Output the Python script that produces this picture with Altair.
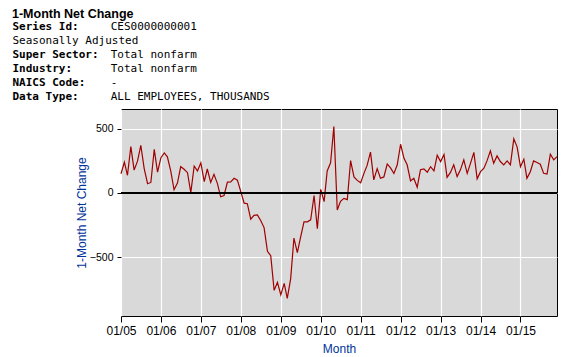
import altair as alt
import pandas as pd

# ---------------- data ----------------
years = list(range(2005, 2016))
net_change = [
    # 2005
    150, 240, 138, 362, 178, 248, 372, 190, 72, 82, 340, 162,
    # 2006
    275, 312, 282, 170, 25, 77, 205, 185, 158, 3, 210, 172,
    # 2007
    235, 88, 187, 82, 145, 75, -30, -20, 85, 87, 115, 100,
    # 2008
    10, -80, -84, -205, -175, -172, -215, -270, -455, -490, -760, -698,
    # 2009
    -795, -706, -823, -670, -352, -466, -345, -225, -225, -210, -20, -278,
    # 2010
    28, -68, 172, 235, 518, -133, -65, -42, -52, 252, 125, 98,
    # 2011
    80, 155, 215, 318, 102, 190, 115, 125, 226, 195, 152, 218,
    # 2012
    380, 270, 220, 94, 114, 45, 182, 188, 162, 205, 172, 295,
    # 2013
    245, 300, 122, 160, 220, 128, 180, 258, 153, 231, 317, 110,
    # 2014
    166, 193, 250, 328, 231, 289, 245, 219, 250, 219, 422, 360,
    # 2015
    205, 263, 114, 166, 250, 237, 224, 153, 148, 302, 258, 284,
]
month_labels = [f"{y}/{m:02d}/01" for y in years for m in range(1, 13)]

chart_title = "1-Month Net Change"
header_labels = ["Series Id:", "Seasonally Adjusted", "Super Sector:",
                 "Industry:", "NAICS Code:", "Data Type:"]
header_bold = [True, False, True, True, True, True]
header_values = ["CES0000000001", "", "Total nonfarm", "Total nonfarm",
                 "-", "ALL EMPLOYEES, THOUSANDS"]
y_ticks = [-500, 0, 500]
y_domain = [-960, 655]
x_title = "Month"
y_title = "1-Month Net Change"

# ---------------- tables ----------------
df = pd.DataFrame({"month": month_labels, "change": net_change})
hdr = pd.DataFrame({
    "row": list(range(len(header_labels))),
    "label": header_labels,
    "bold": header_bold,
    "value": header_values,
})

blue = "#003399"
line_red = "#a00000"

x_enc = alt.X(
    "month:T",
    scale=alt.Scale(
        domain=[alt.DateTime(year=2005, month=1, date=1),
                alt.DateTime(year=2015, month=12, date=1)],
        nice=False,
    ),
    axis=alt.Axis(
        title=x_title,
        format="%m/%y",
        values=[alt.DateTime(year=y, month=1, date=1) for y in years],
        labelOverlap=False, labelFlush=False, labelAlign="center",
        labelFont="Liberation Sans", labelFontSize=12, labelColor="black",
        labelPadding=3, tickSize=6, tickColor="black", domain=False,
        grid=True, gridColor="white", gridWidth=1.2,
        titleFont="Liberation Sans", titleFontSize=12, titleColor=blue,
        titleFontWeight="normal", titleY=36, titleX=218,
        titleBaseline="alphabetic", titleAlign="center",
    ),
)
y_enc = alt.Y(
    "change:Q",
    scale=alt.Scale(domain=y_domain, nice=False, zero=False),
    axis=alt.Axis(
        title=y_title,
        values=y_ticks,
        labelOverlap=False, labelFlush=False,
        labelFont="Liberation Sans", labelFontSize=10.5, labelColor="black",
        labelPadding=4, tickSize=4, tickColor="black", domain=False,
        grid=True, gridColor="white", gridWidth=1.2,
        titleFont="Liberation Sans", titleFontSize=12, titleColor=blue,
        titleFontWeight="normal", titleX=-40, titleY=103.5,
        titleBaseline="middle", titleAlign="center", titleAngle=-90,
    ),
)

line = alt.Chart(df).mark_line(color=line_red, strokeWidth=1.2).encode(x=x_enc, y=y_enc)

zero_rule = alt.Chart(df).mark_rule(color="black", strokeWidth=1.2).encode(
    y=alt.datum(0)
)

title_txt = alt.Chart(pd.DataFrame({"t": [chart_title]})).mark_text(
    font="Liberation Sans", fontSize=12.5, fontWeight="bold", align="left",
    baseline="alphabetic", color="black",
).encode(text="t:N", x=alt.value(-109), y=alt.value(-91.5))

mono = dict(font="DejaVu Sans Mono", fontSize=11, align="left",
            baseline="alphabetic", color="black")

hdr_base = alt.Chart(hdr).transform_calculate(ty="-79.5 + 14 * datum.row")
lab_bold = hdr_base.transform_filter("datum.bold").mark_text(
    fontWeight="bold", **mono
).encode(text="label:N", x=alt.value(-108.5), y=alt.Y("ty:Q", scale=None, axis=None))
lab_norm = hdr_base.transform_filter("!datum.bold").mark_text(
    fontWeight="normal", **mono
).encode(text="label:N", x=alt.value(-108.5), y=alt.Y("ty:Q", scale=None, axis=None))
vals = hdr_base.mark_text(fontWeight="normal", **mono).encode(
    text="value:N", x=alt.value(-10.3), y=alt.Y("ty:Q", scale=None, axis=None)
)

chart = alt.layer(line, zero_rule, title_txt, lab_bold, lab_norm, vals).properties(
    width=436, height=207,
    autosize=alt.AutoSizeParams(type="none"),
    padding={"left": 113, "top": 101, "right": 6, "bottom": 40},
).configure_view(
    fill="#d9d9d9", stroke="black", strokeWidth=1
)

chart.save("out.html", embed_options={"renderer": "svg", "actions": False})
